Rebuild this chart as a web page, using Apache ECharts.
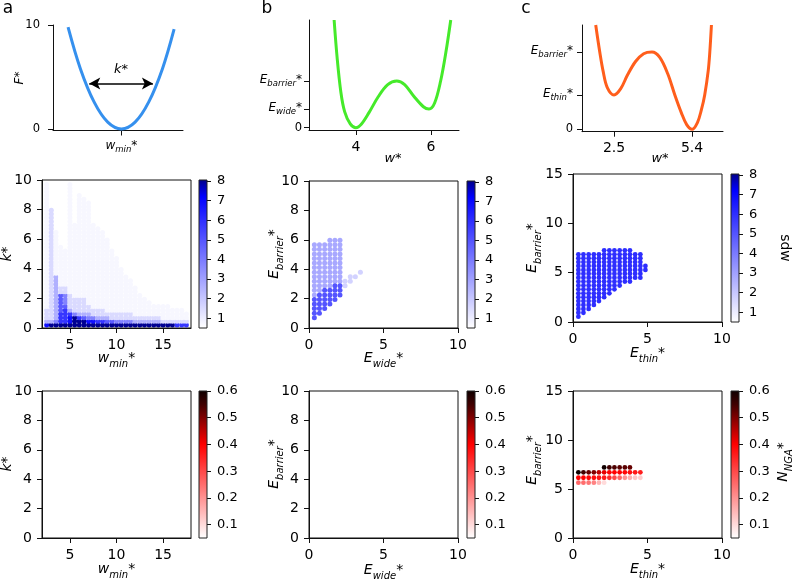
<!DOCTYPE html>
<html><head><meta charset="utf-8">
<script src="https://cdn.jsdelivr.net/npm/echarts@6/dist/echarts.min.js"></script>
<style>html,body{margin:0;padding:0;background:#fff}#c{width:792px;height:584px}</style>
</head><body><div id="c"></div>
<script>
// ================= DATA =================
// top row schematic curves
const curveA_w = [-0.78, -0.6, -0.4, -0.2, 0, 0.2, 0.4, 0.6, 0.77];
const curveA_F = [9.8, 5.8, 2.6, 0.65, 0, 0.65, 2.6, 5.8, 9.6];
const arrowK_w = [-0.47, 0.46];
const arrowK_F = 4.38;
const curveB_w = [3.42, 3.5, 3.6, 3.7, 3.85, 4.0, 4.15, 4.35, 4.6, 4.85, 5.09, 5.3, 5.55, 5.8, 5.95, 6.1, 6.26, 6.4, 6.53];
const curveB_E = [10, 6.5, 3.3, 1.5, 0.35, 0, 0.35, 1.4, 2.9, 4.0, 4.34, 4.0, 2.9, 1.95, 1.74, 2.3, 4.34, 7.0, 10];
const curveB_ticksY = [0, 1.74, 4.34];
const curveB_ticksX = [4, 6];
const curveC_w = [1.82, 1.97, 2.1, 2.25, 2.5, 2.75, 3.0, 3.3, 3.6, 3.91, 4.2, 4.5, 4.76, 5.0, 5.2, 5.4, 5.6, 5.75, 5.87, 6.0, 6.06, 6.12];
const curveC_E = [10, 7.41, 5.5, 4.0, 3.29, 3.9, 5.2, 6.5, 7.25, 7.41, 6.9, 5.3, 3.29, 1.6, 0.45, 0, 0.65, 1.9, 3.29, 5.6, 7.41, 10];
const curveC_ticksY = [0, 3.29, 7.41];
const curveC_ticksX = [2.5, 5.4];

// panel a (middle): grid of w_min* columns, k* rows, sdw level code per cell ('.' = no point)
const aW = [2.5, 3, 3.5, 4, 4.5, 5, 5.5, 6, 6.5, 7, 7.5, 8, 8.5, 9, 9.5, 10, 10.5, 11, 11.5, 12, 12.5, 13, 13.5, 14, 14.5, 15, 15.5, 16, 16.5, 17, 17.5];
const aK = [0.2, 0.45, 0.7, 0.95, 1.2, 1.45, 1.7, 1.95, 2.2, 2.45, 2.7, 2.95, 3.2, 3.45, 3.7, 3.95, 4.2, 4.45, 4.7, 4.95, 5.2, 5.45, 5.7, 5.95, 6.2, 6.45, 6.7, 6.95, 7.2, 7.45, 7.7, 7.95, 8.2, 8.45, 8.7, 8.95, 9.2, 9.45, 9.7];
const aLevelValues = [0, 0.72, 1.5, 2.6, 3.8, 4.8, 5.8, 6.8, 8.0]; // sdw for codes 1..8
const aRows = [ // bottom (k=0.2) to top (k=9.7)
  "78888 88888 88888 88888 88888 88866 6",
  "33466 78887 76655 44443 33333 22222 2",
  "22366 78654 43332 22222 22222 11111 1",
  "22366 64333 22222 22221 11111 11111 1",
  "22356 32222 22211 11111 11111 11111 .",
  "12355 22222 11111 11111 11111 11... .",
  "12354 22221 11111 11111 111.. ..... .",
  "12354 22221 11111 11111 11... ..... .",
  "12354 21111 11111 11111 1.... ..... .",
  "12322 11111 11111 11111 ..... ..... .",
  "12322 11111 11111 11111 ..... ..... .",
  "12311 11111 11111 1111. ..... ..... .",
  "12311 11111 11111 1111. ..... ..... .",
  "12311 11111 11111 111.. ..... ..... .",
  "12111 11111 11111 11... ..... ..... .",
  "12111 11111 11111 11... ..... ..... .",
  "12111 11111 11111 1.... ..... ..... .",
  "12111 11111 11111 1.... ..... ..... .",
  "12111 11111 11111 1.... ..... ..... .",
  "12111 11111 11111 ..... ..... ..... .",
  "12111 11111 11111 ..... ..... ..... .",
  "1211. 11111 1111. ..... ..... ..... .",
  "121.. 11111 1111. ..... ..... ..... .",
  "121.. 11111 1111. ..... ..... ..... .",
  "121.. 11111 111.. ..... ..... ..... .",
  "121.. 11111 111.. ..... ..... ..... .",
  "12... 11111 11... ..... ..... ..... .",
  "12... 11111 1.... ..... ..... ..... .",
  "12... 1.111 ..... ..... ..... ..... .",
  "12... 1.111 ..... ..... ..... ..... .",
  "12... 1.111 ..... ..... ..... ..... .",
  "12... 1.111 ..... ..... ..... ..... .",
  "1.... 1.111 ..... ..... ..... ..... .",
  "1.... 1.111 ..... ..... ..... ..... .",
  "1.... 1.11. ..... ..... ..... ..... .",
  "1.... 1.1.. ..... ..... ..... ..... .",
  "1.... 1.... ..... ..... ..... ..... .",
  "1.... 1.... ..... ..... ..... ..... .",
  "1.... 1.... ..... ..... ..... ..... ."
];

// panel b (middle): E_wide* columns, E_barrier* rows
const bCols = [0.36, 0.70, 1.05, 1.40, 1.74, 2.08];
const bRows = [0.70, 1.01, 1.32, 1.63, 1.94, 2.25, 2.56, 2.87, 3.18, 3.49, 3.80, 4.11, 4.42, 4.73, 5.04, 5.35, 5.66, 5.97];
const bDarkFrom = [0, 1, 2, 3, 4, 5];
const bDarkTo = [4, 5, 6, 6, 7, 7];
const bLightTo = [16, 16, 16, 17, 17, 17];
const bDarkValue = 5.0;
const bLightValue = 2.8;
const bTailE = [2.42, 2.42, 2.77, 2.77, 3.11, 3.45];
const bTailB = [2.87, 3.18, 3.18, 3.49, 3.49, 3.80];
const bTailValue = 1.7;

// panel c (middle): E_thin* columns, E_barrier* rows
const cCols = [0.36, 0.70, 1.05, 1.40, 1.74, 2.09, 2.44, 2.78, 3.13, 3.48, 3.82, 4.17, 4.52, 4.86];
const cRows = [0.54, 0.94, 1.33, 1.73, 2.12, 2.52, 2.91, 3.31, 3.70, 4.10, 4.49, 4.89, 5.28, 5.68, 6.07, 6.47, 6.86, 7.26];
const cRowFrom = [0, 1, 2, 3, 4, 5, 6, 7, 8, 9, 9, 10, 10, 12];
const cRowTo = [16, 16, 16, 16, 16, 17, 17, 17, 17, 17, 17, 16, 16, 13];
const cValue = 6.0;

// panel c (bottom): N_NGA* rows
const nRowsE = [7.2, 6.7, 6.15, 5.65];
const nRowStart = [5, 0, 0, 0];
const nRowValues = [
  [0.6, 0.55, 0.54, 0.53, 0.53, 0.52],
  [0.6, 0.55, 0.52, 0.5, 0.45, 0.42, 0.4, 0.4, 0.4, 0.39, 0.38, 0.37, 0.36],
  [0.4, 0.4, 0.39, 0.38, 0.37, 0.36, 0.34, 0.3, 0.26, 0.2, 0.16, 0.13, 0.12],
  [0.26, 0.25, 0.24, 0.22, 0.15, 0.1]
];

// colorbar ticks
const sdwTicks = [1, 2, 3, 4, 5, 6, 7, 8];
const sdwRange = [0.5, 8.05];
const ngaTicks = [0.1, 0.2, 0.3, 0.4, 0.5, 0.6];
const ngaRange = [0.05, 0.6];

// ================= BUILD =================
const FF = 'DejaVu Sans';
const blueColors = ['#ffffff','#e0e0ff','#c0c0ff','#a0a0ff','#8080ff','#6060ff','#4040ff','#2020ff','#0000ff','#00008b'];
const redColors = ['#ffffff','#ffdbdb','#ffb6b6','#ff9292','#ff6d6d','#ff4949','#ff2424','#ff0000','#c00000','#800000','#400000','#100000'];

const zip = (xs, ys) => xs.map((x, i) => [x, ys[i]]);

const aPoints = [];
aRows.forEach((row, r) => {
  const s = row.replace(/ /g, '');
  for (let c = 0; c < aW.length; c++) {
    const ch = s[c];
    if (ch && ch !== '.') aPoints.push([aW[c], aK[r], aLevelValues[+ch]]);
  }
});
const bPoints = [];
bCols.forEach((x, c) => {
  for (let i = bDarkTo[c] + 1; i <= bLightTo[c]; i++) bPoints.push([x, bRows[i], bLightValue]);
});
bTailE.forEach((x, i) => bPoints.push([x, bTailB[i], bTailValue]));
bCols.forEach((x, c) => {
  for (let i = bDarkFrom[c]; i <= bDarkTo[c]; i++) bPoints.push([x, bRows[i], bDarkValue]);
});
const cPoints = [];
cCols.forEach((x, c) => {
  for (let i = cRowFrom[c]; i <= cRowTo[c]; i++) cPoints.push([x, cRows[i], cValue]);
});
const nPoints = [];
nRowsE.forEach((e, r) => {
  nRowValues[r].forEach((v, j) => nPoints.push([cCols[nRowStart[r] + j], e, v]));
});

function mrich(M, S) {
  const pb = Math.round(M * 0.28);
  return {
    i: {fontSize: M, fontStyle: 'italic', fontFamily: FF, color: '#000', padding: [0, 0, pb, 0], verticalAlign: 'bottom'},
    s: {fontSize: S, fontStyle: 'italic', fontFamily: FF, color: '#000', verticalAlign: 'bottom'},
    n: {fontSize: M, fontFamily: FF, color: '#000', padding: [0, 0, pb, 0], verticalAlign: 'bottom'}
  };
}
const R12 = mrich(12, 8.5), R14 = mrich(14, 10), R13 = mrich(13, 9);

// grids: 0 A1,1 B1,2 C1,3 A2,4 B2,5 C2,6 A3,7 B3,8 C3, 9..14 colorbars
const G = [
  [53, 25, 130, 105.5], [309, 20, 150, 110], [582, 25, 141, 106.7],
  [42, 180, 149, 148], [309, 181, 149, 147], [573, 174, 149, 148],
  [42, 391, 149, 147], [309, 391, 149, 147], [573, 391, 149, 147],
  [199, 180, 8, 148], [467, 181, 8, 147], [731, 174, 8, 148],
  [199, 391, 8, 147], [467, 391, 8, 147], [731, 391, 8, 147]
];
const grid = G.map((g, i) => ({
  left: g[0], top: g[1], width: g[2], height: g[3],
  show: i >= 3 && i <= 8, borderColor: '#111', borderWidth: 1, backgroundColor: 'transparent'
}));

const lineSt = {color: '#111', width: 1};
function vAxis(gi, min, max, ticks, opts) {
  opts = opts || {};
  return {
    gridIndex: gi, type: 'value', min, max,
    axisLine: {show: opts.line !== false, onZero: false, lineStyle: lineSt},
    axisTick: {show: true, length: opts.tickLen || 5, customValues: ticks, lineStyle: lineSt},
    axisLabel: {customValues: ticks, fontSize: opts.fs || 14, fontFamily: FF, color: '#000', margin: opts.margin || 10,
      formatter: opts.fmt || (v => String(v)), rich: opts.rich},
    splitLine: {show: false}, position: opts.position
  };
}
const xAxis = [], yAxis = [];
// top row
xAxis.push(vAxis(0, -1, 0.9, [0], {fs: 12, margin: 9, rich: R12, fmt: () => '{i|w}{s|min}{n|*}'}));
yAxis.push(vAxis(0, -0.15, 10, [0, 10], {fs: 11.5, margin: 13}));
xAxis.push(vAxis(1, 2.75, 6.75, curveB_ticksX, {fs: 14, margin: 10}));
yAxis.push(vAxis(1, -0.21, 10, curveB_ticksY, {fs: 11.5, margin: 7, rich: R12,
  fmt: v => v === 0 ? '0' : (v === curveB_ticksY[1] ? '{i|E}{s|wide}{n|*}' : '{i|E}{s|barrier}{n|*}')}));
xAxis.push(vAxis(2, 1.31, 6.55, curveC_ticksX, {fs: 14, margin: 10}));
yAxis.push(vAxis(2, -0.23, 10, curveC_ticksY, {fs: 11.5, margin: 9, rich: R12,
  fmt: v => v === 0 ? '0' : (v === curveC_ticksY[1] ? '{i|E}{s|thin}{n|*}' : '{i|E}{s|barrier}{n|*}')}));
// middle & bottom rows
const t10 = [0, 2, 4, 6, 8, 10], t15 = [0, 5, 10, 15], tW = [5, 10, 15], tE = [0, 5, 10];
[[3, 'a'], [4, 'b'], [5, 'c'], [6, 'a'], [7, 'b'], [8, 'c']].forEach(([gi, p]) => {
  if (p === 'a') { xAxis.push(vAxis(gi, 2, 18, tW)); yAxis.push(vAxis(gi, 0, 10, t10)); }
  if (p === 'b') { xAxis.push(vAxis(gi, 0, 10, tE)); yAxis.push(vAxis(gi, 0, 10, t10)); }
  if (p === 'c') { xAxis.push(vAxis(gi, 0, 10, tE)); yAxis.push(vAxis(gi, 0, 15, t15)); }
});
// colorbars
for (let gi = 9; gi <= 14; gi++) {
  const red = gi >= 12;
  const rg = red ? ngaRange : sdwRange;
  xAxis.push({gridIndex: gi, type: 'value', min: 0, max: 1, show: false});
  yAxis.push(vAxis(gi, rg[0], rg[1], red ? ngaTicks : sdwTicks,
    {line: false, position: 'right', fs: 13, margin: 10, tickLen: 4, fmt: red ? (v => v.toFixed(1)) : (v => String(v))}));
}

function cbSeries(gi, rg, colors) {
  const stops = colors.map((c, i) => ({offset: i / (colors.length - 1), color: c}));
  return {
    type: 'custom', xAxisIndex: gi, yAxisIndex: gi, silent: true, clip: false,
    data: [[0, rg[0], 1, rg[1]]],
    renderItem: (params, api) => {
      const p0 = api.coord([0, rg[0]]), p1 = api.coord([1, rg[1]]);
      const shape = {x: p0[0], y: p1[1], width: p1[0] - p0[0], height: p0[1] - p1[1]};
      return {type: 'group', children: [
        {type: 'rect', shape, style: {fill: new echarts.graphic.LinearGradient(0, 1, 0, 0, stops)}},
        {type: 'rect', shape, style: {fill: 'none', stroke: '#222', lineWidth: 1}}
      ]};
    }
  };
}

const series = [
  {type: 'line', xAxisIndex: 0, yAxisIndex: 0, data: zip(curveA_w, curveA_F), smooth: 0.35, symbol: 'none',
    lineStyle: {color: '#3590ee', width: 3}, clip: false,
    markLine: {silent: true, symbol: ['arrow', 'arrow'], symbolSize: [9, 11],
      lineStyle: {color: '#000', width: 1.5, type: 'solid'},
      label: {show: true, position: 'insideMiddleTop', distance: 3, formatter: '{i|k}{n|*}', rich: R13},
      data: [[{coord: [arrowK_w[0], arrowK_F]}, {coord: [arrowK_w[1], arrowK_F]}]]}},
  {type: 'line', xAxisIndex: 1, yAxisIndex: 1, data: zip(curveB_w, curveB_E), smooth: 0.35, symbol: 'none',
    lineStyle: {color: '#45ea2a', width: 3}, clip: false},
  {type: 'line', xAxisIndex: 2, yAxisIndex: 2, data: zip(curveC_w, curveC_E), smooth: 0.35, symbol: 'none',
    lineStyle: {color: '#ff5e1c', width: 3}, clip: false},
  {type: 'scatter', xAxisIndex: 3, yAxisIndex: 3, data: aPoints, symbolSize: 5, itemStyle: {opacity: 1}},
  {type: 'scatter', xAxisIndex: 4, yAxisIndex: 4, data: bPoints, symbolSize: 5, itemStyle: {opacity: 1}},
  {type: 'scatter', xAxisIndex: 5, yAxisIndex: 5, data: cPoints, symbolSize: 4.8, itemStyle: {opacity: 1}},
  {type: 'scatter', xAxisIndex: 8, yAxisIndex: 8, data: nPoints, symbolSize: 4.8, itemStyle: {opacity: 1}},
  cbSeries(9, sdwRange, blueColors), cbSeries(10, sdwRange, blueColors), cbSeries(11, sdwRange, blueColors),
  cbSeries(12, ngaRange, redColors), cbSeries(13, ngaRange, redColors), cbSeries(14, ngaRange, redColors)
];

function T(text, x, y, rich, rot, extra) {
  return Object.assign({type: 'text', x, y, rotation: (rot || 0) * Math.PI / 180, silent: true,
    style: Object.assign({text, rich, align: 'center', verticalAlign: 'middle', fill: '#000', fontFamily: FF, fontSize: 14}, extra || {})});
}
const graphic = [
  T('a', 8, 9, null, 0, {fontSize: 17}),
  T('b', 267, 9, null, 0, {fontSize: 17}),
  T('c', 526, 9, null, 0, {fontSize: 17}),
  T('{i|F}{n|*}', 21, 78, R12, 90),
  T('{i|w}{n|*}', 393, 161, R13, 0),
  T('{i|w}{n|*}', 660, 161, R13, 0),
  T('{i|k}{n|*}', 9, 254, R14, 90),
  T('{i|w}{s|min}{n|*}', 116.5, 360, R14, 0),
  T('{i|E}{s|barrier}{n|*}', 276, 254, R14, 90),
  T('{i|E}{s|wide}{n|*}', 383.5, 360, R14, 0),
  T('{i|E}{s|barrier}{n|*}', 534, 248, R14, 90),
  T('{i|E}{s|thin}{n|*}', 647.5, 355, R14, 0),
  T('sdw', 785, 248, null, -90, {fontSize: 14}),
  T('{i|k}{n|*}', 9, 464, R14, 90),
  T('{i|w}{s|min}{n|*}', 116.5, 571, R14, 0),
  T('{i|E}{s|barrier}{n|*}', 276, 464, R14, 90),
  T('{i|E}{s|wide}{n|*}', 383.5, 572, R14, 0),
  T('{i|E}{s|barrier}{n|*}', 534, 460, R14, 90),
  T('{i|E}{s|thin}{n|*}', 647.5, 571, R14, 0),
  T('{i|N}{s|NGA}{n|*}', 785, 462, R14, 90)
];

const chart = echarts.init(document.getElementById('c'), null, {renderer: 'canvas'});
chart.setOption({
  animation: false,
  backgroundColor: '#fff',
  textStyle: {fontFamily: FF},
  grid, xAxis, yAxis, series, graphic,
  visualMap: [
    {type: 'continuous', show: false, seriesIndex: [3, 4, 5], dimension: 2, min: sdwRange[0], max: sdwRange[1], inRange: {color: blueColors}},
    {type: 'continuous', show: false, seriesIndex: [6], dimension: 2, min: ngaRange[0], max: ngaRange[1], inRange: {color: redColors}}
  ]
});
</script></body></html>
